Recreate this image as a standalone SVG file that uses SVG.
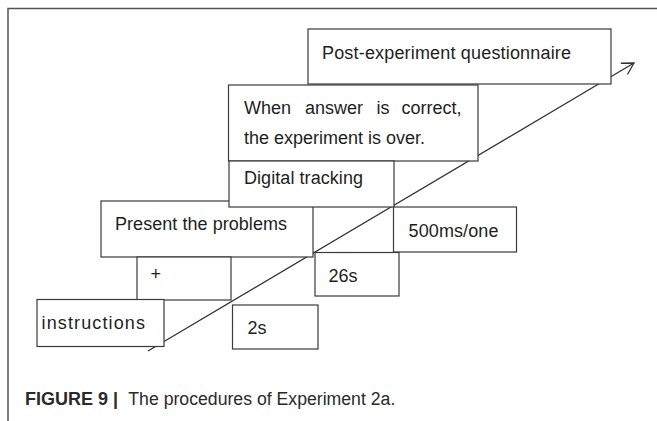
<svg xmlns="http://www.w3.org/2000/svg" width="657" height="421" viewBox="0 0 657 421">
  <style>
    .box { fill: #ffffff; stroke: #3a3a3a; stroke-width: 1.2; }
    .lbl { font-family: "Liberation Sans", Arial, sans-serif; font-size: 18px; fill: #1e1e1e; }
    .cap { font-family: "Liberation Sans", Arial, sans-serif; font-size: 18px; fill: #2a2a2a; }
    .frame { fill: none; stroke: #555555; stroke-width: 1.5; }
    .conn { fill: none; stroke: #333333; stroke-width: 1.3; }
  </style>
  <defs>
    <marker id="arrow" markerUnits="userSpaceOnUse" markerWidth="16" markerHeight="16" viewBox="-14 -8 16 16" refX="0" refY="0" orient="auto" overflow="visible">
      <path d="M-11.5,-6.5 L0,0 L-11.5,6.5" fill="none" stroke="#333333" stroke-width="1.3"/>
    </marker>
  </defs>
  <rect x="0" y="0" width="657" height="421" fill="#ffffff"/>
  <path class="frame" d="M8,421 V8.5 H657"/>

  <g id="connectors">
    <line class="conn" x1="148" y1="351" x2="634" y2="63" marker-end="url(#arrow)"/>
  </g>

  <g id="post-questionnaire">
    <rect class="box" x="308" y="29" width="303" height="55"/>
    <text class="lbl" x="322" y="59" textLength="249" lengthAdjust="spacing">Post-experiment questionnaire</text>
  </g>
  <g id="when-correct">
    <rect class="box" x="228.5" y="85" width="249.5" height="76"/>
    <text class="lbl" y="114"><tspan x="244">When</tspan><tspan x="305">answer</tspan><tspan x="376.5">is</tspan><tspan x="401.5">correct,</tspan></text>
    <text class="lbl" x="244" y="144">the experiment is over.</text>
  </g>
  <g id="present-problems">
    <rect class="box" x="101" y="201" width="212" height="56"/>
    <text class="lbl" x="115" y="230" textLength="172" lengthAdjust="spacing">Present the problems</text>
  </g>
  <g id="digital-tracking">
    <rect class="box" x="229" y="161" width="165" height="46"/>
    <text class="lbl" x="244" y="184" textLength="119" lengthAdjust="spacing">Digital tracking</text>
  </g>
  <g id="ms500">
    <rect class="box" x="393.5" y="207" width="123" height="45"/>
    <text class="lbl" x="408.5" y="237" textLength="90" lengthAdjust="spacing">500ms/one</text>
  </g>
  <g id="fixation">
    <rect class="box" x="137" y="257" width="94" height="43"/>
    <text class="lbl" x="150.5" y="279.5">+</text>
  </g>
  <g id="s26">
    <rect class="box" x="315" y="252.5" width="84" height="43.5"/>
    <text class="lbl" x="328.5" y="282">26s</text>
  </g>
  <g id="instructions">
    <rect class="box" x="37" y="299.5" width="127" height="47"/>
    <text class="lbl" x="41.5" y="328.5" textLength="103.5" lengthAdjust="spacing">instructions</text>
  </g>
  <g id="s2">
    <rect class="box" x="232.5" y="305" width="85.5" height="44"/>
    <text class="lbl" x="247.5" y="333.5">2s</text>
  </g>

  <g id="caption">
    <text class="cap" x="25" y="405" font-weight="bold">FIGURE 9 |</text>
    <text class="cap" x="128.3" y="405" textLength="267" lengthAdjust="spacingAndGlyphs">The procedures of Experiment 2a.</text>
  </g>
</svg>
